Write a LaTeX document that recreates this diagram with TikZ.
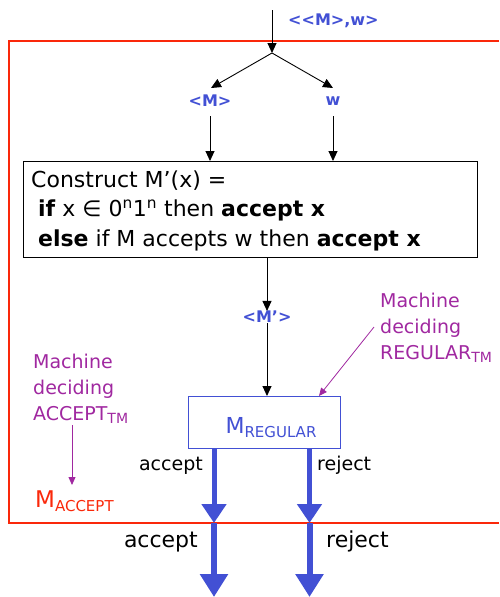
\documentclass[tikz,border=0pt]{standalone}
\usepackage{fontspec}
\setmainfont{DejaVu Sans}
\usetikzlibrary{arrows.meta}
\definecolor{blu}{RGB}{66,80,212}
\definecolor{mag}{RGB}{160,40,160}
\definecolor{redl}{RGB}{250,40,10}
\newcommand{\lowsub}[2][14]{\raisebox{-0.35ex}{\fontsize{#1}{#1}\selectfont #2}}
\tikzset{
  every node/.style={inner sep=0pt, font=\fontsize{18}{27}\selectfont},
  thin arrow/.style={draw=black, line width=0.9pt, -{Triangle[width=9pt,length=10pt]}},
  note arrow/.style={draw=mag, line width=0.8pt, -{Triangle[width=7pt,length=8pt]}},
  fat arrow/.style={draw=blu, line width=5pt, -{Triangle[width=24pt,length=19pt]}},
  fat arrow big/.style={draw=blu, line width=6pt, -{Triangle[width=27pt,length=23pt]}},
  bluelabel/.style={text=blu, font=\fontsize{16}{18}\selectfont\bfseries},
  note/.style={text=mag, align=left, font=\fontsize{19}{26}\selectfont},
  outlabel/.style={font=\fontsize{19}{24}\selectfont},
}
\begin{document}
\begin{tikzpicture}[x=1pt,y=-1pt]
\useasboundingbox (0,0) rectangle (499,597);

% outer machine M_ACCEPT
\draw[redl, line width=1.2pt] (499,41) -- (9,41) -- (9,523) -- (499,523);

% input and split
\coordinate (in) at (272,10);
\coordinate (split) at (272,53);
\node[bluelabel, anchor=west] (inlab) at (288,21) {<{}<M>{},w>};
\draw[thin arrow] (in) -- (split);
\coordinate (mtip) at (211,88);
\coordinate (wtip) at (333,88);
\draw[thin arrow] (split) -- (mtip);
\draw[thin arrow] (split) -- (wtip);
\node[bluelabel] (m) at (210,101) {<M>};
\node[bluelabel] (w) at (333,101) {w};

% construction box
\node[draw=black, line width=0.9pt, anchor=north west,
      minimum width=454pt, minimum height=96pt] (box) at (23,161) {};
\node[align=left, anchor=base west, font=\fontsize{22}{29.5}\selectfont] (code) at (31,246)
  {Construct M'(x) =\\
   \ \textbf{if} x ∈ 0\textsuperscript{n}1\textsuperscript{n} then \textbf{accept x}\\
   \ \textbf{else} if M accepts w then \textbf{accept x}};
\draw[thin arrow] (m.south |- 0,116) -- (m.south |- box.north);
\draw[thin arrow] (w.south |- 0,116) -- (w.south |- box.north);

% encoded machine
\node[bluelabel] (mp) at (267,317) {<M'>};
\draw[thin arrow] (box.south -| mp) -- (mp.north);

% decider for REGULAR
\node[draw=blu, line width=1pt, minimum width=152pt, minimum height=52pt,
      anchor=north west] (reg) at (188,396) {};
\node[text=blu, anchor=base, font=\fontsize{22}{24}\selectfont] (regname) at (271,433)
  {M\lowsub[15]{REGULAR}};
\draw[thin arrow] (mp.south) -- (reg.north -| mp);

% annotations
\node[note, anchor=north west] (rnote) at (380,292.5)
  {Machine\\deciding\\REGULAR\lowsub{TM}};
\coordinate (rstart) at (374,327);
\coordinate (rend) at (319,396);
\draw[note arrow] (rstart) -- (rend);
\node[note, anchor=north west] (anote) at (33,353.5)
  {Machine\\deciding\\ACCEPT\lowsub{TM}};
\coordinate (astart) at (72,425);
\coordinate (aend) at (72,485);
\draw[note arrow] (astart) -- (aend);
\node[text=redl, anchor=base west, font=\fontsize{23}{24}\selectfont] (macc) at (35,507)
  {M\lowsub[15]{ACCEPT}};

% outputs
\coordinate (acc1) at (214,523);
\coordinate (rej1) at (309.5,523);
\coordinate (acc2) at (214,597);
\coordinate (rej2) at (309.5,597);
\draw[fat arrow] (reg.south -| acc1) -- (acc1);
\draw[fat arrow] (reg.south -| rej1) -- (rej1);
\draw[fat arrow big] (acc1) -- (acc2);
\draw[fat arrow big] (rej1) -- (rej2);
\node[outlabel, anchor=base east] (al1) at (203,470) {accept};
\node[outlabel, anchor=base west] (rl1) at (317,470) {reject};
\node[outlabel, anchor=base east, font=\fontsize{22}{24}\selectfont] (al2) at (198,547) {accept};
\node[outlabel, anchor=base west, font=\fontsize{22}{24}\selectfont] (rl2) at (326,547) {reject};
\end{tikzpicture}
\end{document}
